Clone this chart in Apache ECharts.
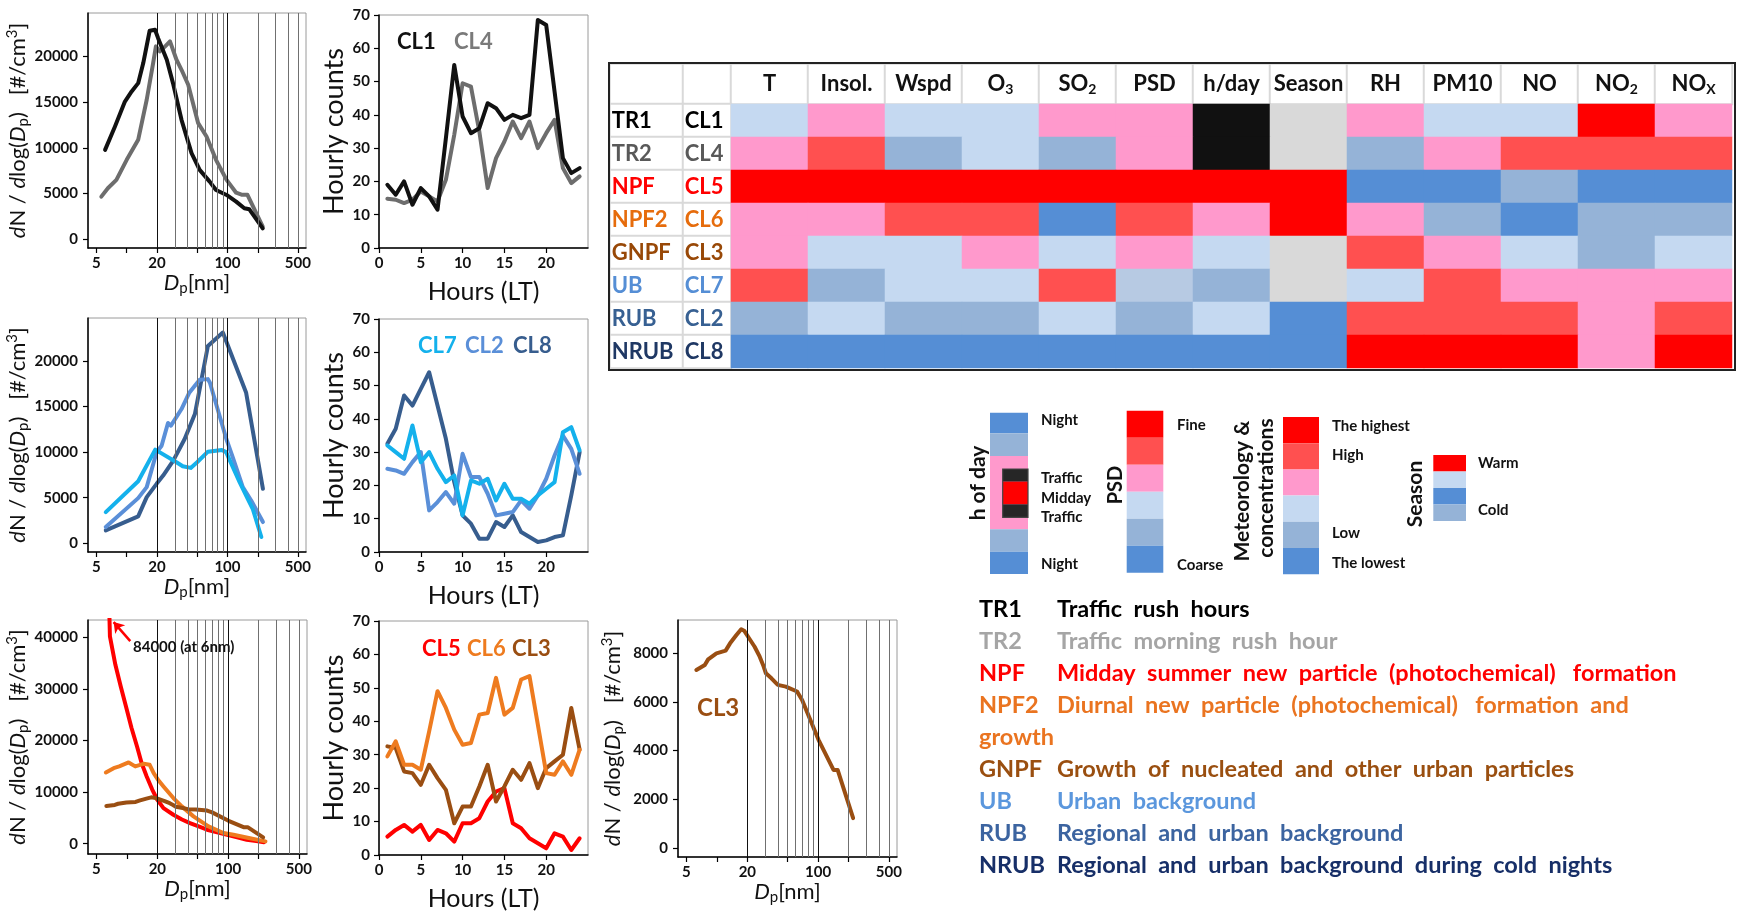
<!DOCTYPE html>
<html>
<head>
<meta charset="utf-8">
<title>PSD clusters</title>
<script src="https://cdn.jsdelivr.net/npm/echarts@6.0.0/dist/echarts.min.js"></script>
<style>
html,body{margin:0;padding:0;background:#ffffff;}
#chart{width:1742px;height:916px;}
</style>
</head>
<body>
<div id="chart"></div>
<script>
const FONT = 'Lato, "Open Sans", "DejaVu Sans", sans-serif';

// ---------- size distributions: [Dp (nm), dN/dlogDp (#/cm3)] ----------
const psdCL1 = [[6.1,9780],[7.65,12340],[9.6,15070],[11.2,16170],[13,17080],[14.6,19270],[16.9,22810],[19.1,22920],[20.5,22000],[25,19640],[28.8,17080],[35,13070],[44,9420],[53,7590],[66.6,6310],[77,5400],[98,4850],[122,4120],[147,3390],[165,3280],[224,1200]];
const psdCL4 = [[5.6,4670],[6.5,5580],[7.9,6500],[10,8690],[13,10880],[15.8,15260],[18.3,19270],[19.5,21100],[21.3,20550],[24.1,21100],[26.9,21640],[31.2,19640],[35,18540],[40.8,16900],[51.2,12700],[62,11240],[77,8690],[98,6500],[122,5100],[140,4860],[158,4860],[224,1390]];
const psdCL7 = [[6.2,3420],[13,6810],[19.2,10270],[31.2,8890],[36,8450],[43.2,8270],[50,8890],[64,10050],[88,10240],[97,10000],[132,6700],[159,4880],[178,3790],[217,690]];
const psdCL2 = [[6.2,1785],[13,4955],[15.8,6160],[19.8,9980],[22.2,10700],[25.7,13190],[27.5,12900],[35,14720],[41.6,16470],[53,17920],[64,18000],[67,17600],[97.5,11440],[113,9430],[142,6160],[172,4700],[225,2330]];
const psdCL8 = [[6.2,1420],[13,2950],[15.8,5060],[19.8,6520],[23,7430],[29,9070],[37.6,11440],[47.5,14170],[64,21640],[90,23100],[153,16540],[225,5975]];
const psdCL5 = [[6.0,84000],[6.8,40200],[7.7,34700],[8.7,30500],[9.8,26600],[11.1,22500],[12.6,18860],[14,15600],[15.7,13050],[17.8,10500],[20,8530],[23,6910],[28.8,5620],[35,4700],[42,4000],[52,3300],[62,2710],[78,2200],[98,1740],[123,1250],[153,775],[190,500],[226,300]];
const psdCL6 = [[6.2,13820],[7.4,14660],[8.4,15000],[10.4,15760],[12.1,15000],[14.6,15500],[16.8,15300],[18.4,13700],[20.5,12300],[23,11100],[28.8,8850],[34.9,7240],[45.5,5300],[64,3360],[90,2070],[113,1740],[160,1100],[234,450]];
const psdCL3 = [[6.27,7316],[7.6,7520],[8.2,7750],[9.9,8000],[12.2,8110],[13.5,8410],[15.6,8750],[17.4,8990],[18.6,8930],[20.8,8620],[23.6,8270],[26.5,7860],[28.6,7520],[30.5,7180],[34.6,6970],[40,6700],[48,6630],[62,6430],[69.5,6080],[101,4440],[142,3200],[156,3200],[222,1220]];

// Dp grid lines and tick labels
const dpGridLines = [20,30,40,50,60,70,80,90,100,200,300,400,500];
const dpTicks = [5,10,20,50,100,200,500];
const dpLabels = [5,20,100,500];

// ---------- hourly counts ----------
const hours = [1,2,3,4,5,6,7,8,9,10,11,12,13,14,15,16,17,18,19,20,21,22,23,24];
const hrCL1 = [19,16,20,13,18,15.5,11.5,33,55,39.5,34.5,36,43.5,42,38.5,40,39,40,68.5,67,47,27,22.5,24];
const hrCL4 = [14.8,14.5,13.5,14.5,17,15.5,14,20.5,34,49.5,48.5,35,18,27,32,38,33,38,30,34.5,38.5,24,19.5,21.5];
const hrCL7 = [32,30,28,38,27,30,25,21,23,11,21.5,20.5,22,15.5,20.5,16,16,14.5,17,19,21,36,37.5,30.5];
const hrCL2 = [25,24.5,23.5,27,30,12.5,15,18,14.5,29.5,22.5,22.5,17.5,11,11.5,12,15.5,13,17,22,29,35,31,23.5];
const hrCL8 = [32.5,37,47,44,49,54,44,34,21,11,8.5,4,4,9,7.5,11,6,4.5,3,3.5,4.5,5,17,30];
const hrCL5 = [5.5,7.5,9,7,9,4.5,7.5,6.5,4,9.5,9.5,11,16,19,20,9.5,8,5,3.5,2,6.5,5.5,1.5,5];
const hrCL6 = [29.5,34,27,27,25.5,37,49,44,37.5,33,33.5,42,42.5,53,42,44,52.5,53.5,39,24.5,24,28,24,31.5];
const hrCL3 = [32.5,32,25,24.5,21,27,23,19.5,9.5,14.5,14.5,20.5,27,16,20.5,25.5,22.5,27.5,20,26,28,30,44,31.5];
const hourTicks = [0,5,10,15,20];

// ---------- table (level codes: 0 lowest .. 5 highest, 1.5 intermediate, 6 n/a, 7 traffic) ----------
const tableCols = ['T','Insol.','Wspd','O_3','SO_2','PSD','h/day','Season','RH','PM10','NO','NO_2','NO_X'];
const typeNames = ['TR1','TR2','NPF','NPF2','GNPF','UB','RUB','NRUB'];
const clusterNames = ['CL1','CL4','CL5','CL6','CL3','CL7','CL2','CL8'];
const rowTR1  = [2,3,2,2,3,3,7,6,3,2,2,5,3];
const rowTR2  = [3,4,1,2,1,3,7,6,1,3,4,4,4];
const rowNPF  = [5,5,5,5,5,5,5,5,0,0,1,0,0];
const rowNPF2 = [3,3,4,4,0,4,3,5,3,1,0,1,1];
const rowGNPF = [3,2,2,3,2,3,2,6,4,3,2,1,2];
const rowUB   = [4,1,2,2,4,1.5,1,6,2,4,3,3,3];
const rowRUB  = [1,2,1,1,2,1,2,0,4,4,4,3,4];
const rowNRUB = [0,0,0,0,0,0,0,0,5,5,5,3,5];
const tableRows = [rowTR1,rowTR2,rowNPF,rowNPF2,rowGNPF,rowUB,rowRUB,rowNRUB];

// ---------- text legend ----------
const groupDescs = ['Traffic  rush  hours','Traffic  morning  rush  hour','Midday  summer  new  particle  (photochemical)   formation','Diurnal  new  particle  (photochemical)   formation  and','Growth  of  nucleated  and  other  urban  particles','Urban  background','Regional  and  urban  background','Regional  and  urban  background  during  cold  nights'];

// ---------- styling ----------
const C = {CL1:'#111111', CL4:'#6d6d6d', CL7:'#14b1ec', CL2:'#5a8fd8', CL8:'#375d8e', CL5:'#ff0000', CL6:'#ee7b1f', CL3:'#9a4e12'};
const rowColors = ['#000000','#595959','#ff0000','#e66c0c','#984807','#558ed5','#376092','#1f3864'];
const descColors = ['#000000','#a5a5a5','#ff0000','#ea7420','#9a4f10','#5b97dd','#3c64a0','#172f68'];
const levelColors = [[0,'#558ed5'],[1,'#95b3d7'],[1.5,'#b7cae3'],[2,'#c5d9f1'],[3,'#ff99cc'],[4,'#ff5050'],[5,'#ff0000'],[6,'#d9d9d9'],[7,'#111111']];

const plotGrids = [
  {left:88, top:13, width:218, height:235},
  {left:379, top:15, width:209, height:233},
  {left:88, top:318, width:218, height:234},
  {left:379, top:319, width:209, height:233},
  {left:88, top:620, width:219, height:234},
  {left:379, top:621, width:209, height:234},
  {left:678, top:620, width:219, height:237}
];
const tableGrids = [
  {left:610, top:64, width:73, height:40},   // 7 HL1
  {left:683, top:64, width:48, height:40},   // 8 HL2
  {left:731, top:64, width:1001, height:40}, // 9 header
  {left:610, top:104, width:73, height:264}, // 10 RL1
  {left:683, top:104, width:48, height:264}, // 11 RL2
  {left:731, top:104, width:1001, height:264} // 12 data
];

const richName = {
  i:{fontFamily:FONT, fontSize:22, fontStyle:'italic', color:'#111'},
  n:{fontFamily:FONT, fontSize:22, color:'#111'},
  sb:{fontFamily:FONT, fontSize:15, color:'#111', padding:[11,0,0,0]},
  sp:{fontFamily:FONT, fontSize:15, color:'#111', padding:[0,0,11,0]}
};
const tickLabel = {fontFamily:FONT, fontWeight:'bold', fontSize:15, color:'#111'};
const axLine = {show:true, onZero:false, lineStyle:{color:'#000', width:1.5}};

function sizeX(gi){
  return {type:'log', gridIndex:gi, logBase:10, min:4.13, max:602,
    axisLine:axLine,
    axisTick:{show:true, customValues:dpTicks, length:5, lineStyle:{color:'#000', width:1.2}},
    axisLabel:Object.assign({customValues:dpLabels, margin:8, formatter:v=>String(v)}, tickLabel),
    splitLine:{show:false}, minorTick:{show:false},
    name:'{i|D}{sb|p}{n|[nm]}', nameLocation:'middle', nameGap:18,
    nameTextStyle:{rich:richName}};
}
function sizeY(gi, min, max, ticks){
  return {type:'value', gridIndex:gi, min, max,
    axisLine:axLine,
    axisTick:{show:true, customValues:ticks, length:5, lineStyle:{color:'#000', width:1.2}},
    axisLabel:Object.assign({customValues:ticks, margin:10, formatter:v=>String(v)}, tickLabel),
    splitLine:{show:false},
    name:'{i|d}{n|N / }{i|d}{n|log(}{i|D}{sb|p}{n|)   [#/cm}{sp|3}{n|]}', nameLocation:'middle', nameGap:52,
    nameTextStyle:{rich:richName}};
}
function hourX(gi){
  return {type:'value', gridIndex:gi, min:0, max:25, interval:5,
    axisLine:axLine,
    axisTick:{show:true, customValues:hourTicks, length:5, lineStyle:{color:'#000', width:1.2}},
    axisLabel:Object.assign({customValues:hourTicks, margin:8}, tickLabel),
    splitLine:{show:false},
    name:'Hours (LT)', nameLocation:'middle', nameGap:31,
    nameTextStyle:{fontFamily:FONT, fontSize:25, color:'#111'}};
}
function hourY(gi){
  return {type:'value', gridIndex:gi, min:0, max:70, interval:10,
    axisLine:axLine,
    axisTick:{show:true, length:5, lineStyle:{color:'#000', width:1.2}},
    axisLabel:Object.assign({margin:9}, tickLabel),
    splitLine:{show:false},
    name:'Hourly counts', nameLocation:'middle', nameGap:31,
    nameTextStyle:{fontFamily:FONT, fontSize:27, color:'#111'}};
}
function catAxis(gi, data, inverse){
  return {type:'category', gridIndex:gi, data, inverse:!!inverse, show:false};
}
function lineS(gi, data, color){
  return {type:'line', xAxisIndex:gi, yAxisIndex:gi, data, symbol:'none', showSymbol:false,
    lineStyle:{color, width:4, join:'round', cap:'round'}, itemStyle:{color}, z:3, clip:true,
    silent:true, emphasis:{disabled:true}};
}
function hourS(gi, vals, color){ return lineS(gi, hours.map((h,i)=>[h, vals[i]]), color); }
function gridLineS(gi){
  return {type:'line', xAxisIndex:gi, yAxisIndex:gi, data:[], z:1, silent:true,
    markLine:{silent:true, symbol:['none','none'], animation:false, label:{show:false},
      emphasis:{disabled:true},
      data:dpGridLines.map(v=>({xAxis:v, lineStyle:{color:(v===20||v===100)?'#111':'#707070', width:1, type:'solid'}}))}};
}
function toRich(s){
  const p = s.split('_');
  return p.length>1 ? '{h|'+p[0]+'}{s|'+p[1]+'}' : '{h|'+s+'}';
}
const cellStyle = {color:'#ffffff', borderColor:'#d9d9d9', borderWidth:2};
const boldLabel = {fontFamily:FONT, fontWeight:'bold', fontSize:22};

const series = [];
// P1
series.push(gridLineS(0), lineS(0, psdCL4, C.CL4), lineS(0, psdCL1, C.CL1));
// P2
series.push(hourS(1, hrCL4, C.CL4), hourS(1, hrCL1, C.CL1));
// P3
series.push(gridLineS(2), lineS(2, psdCL8, C.CL8), lineS(2, psdCL2, C.CL2), lineS(2, psdCL7, C.CL7));
// P4
series.push(hourS(3, hrCL8, C.CL8), hourS(3, hrCL2, C.CL2), hourS(3, hrCL7, C.CL7));
// P5
const arrowS = {type:'line', xAxisIndex:4, yAxisIndex:4, data:[], z:4, silent:true,
  markLine:{silent:true, symbol:['none','arrow'], symbolSize:10, animation:false, label:{show:false}, emphasis:{disabled:true},
    lineStyle:{color:'#ff0000', width:2.5, type:'solid'},
    data:[[{coord:[10.8,39300]},{coord:[7.4,43000]}]]}};
series.push(gridLineS(4), lineS(4, psdCL5, C.CL5), lineS(4, psdCL6, C.CL6), lineS(4, psdCL3, C.CL3), arrowS);
// P6
series.push(hourS(5, hrCL5, C.CL5), hourS(5, hrCL3, C.CL3), hourS(5, hrCL6, C.CL6));
// P7
series.push(gridLineS(6), lineS(6, psdCL3, C.CL3));

// table
const blankCell = (gi)=>({type:'heatmap', xAxisIndex:gi, yAxisIndex:gi, data:[[0,0,0]], itemStyle:cellStyle, label:{show:false}, silent:true, emphasis:{disabled:true}});
series.push(blankCell(7), blankCell(8));
series.push({type:'heatmap', xAxisIndex:9, yAxisIndex:9, silent:true, emphasis:{disabled:true},
  data:tableCols.map((c,i)=>({value:[i,0,0], name:c})), itemStyle:cellStyle,
  label:{show:true, formatter:p=>toRich(p.name),
    rich:{h:Object.assign({color:'#111'}, boldLabel), s:{fontFamily:FONT, fontWeight:'bold', fontSize:14, color:'#111', padding:[10,0,0,0]}}}});
series.push({type:'heatmap', xAxisIndex:10, yAxisIndex:10, silent:true, emphasis:{disabled:true},
  data:typeNames.map((n,i)=>({value:[0,i,0], name:n, label:{color:rowColors[i]}})), itemStyle:cellStyle,
  label:Object.assign({show:true, position:'insideLeft', distance:3, formatter:p=>p.name}, boldLabel)});
series.push({type:'heatmap', xAxisIndex:11, yAxisIndex:11, silent:true, emphasis:{disabled:true},
  data:clusterNames.map((n,i)=>({value:[0,i,0], name:n, label:{color:rowColors[i]}})), itemStyle:cellStyle,
  label:Object.assign({show:true, position:'insideLeft', distance:3, formatter:p=>p.name}, boldLabel)});
const cells = [];
tableRows.forEach((row, r)=>row.forEach((v, c)=>cells.push([c, r, v])));
const dataSeriesIdx = series.length;
series.push({type:'heatmap', xAxisIndex:12, yAxisIndex:12, data:cells, silent:true, emphasis:{disabled:true},
  itemStyle:{borderWidth:0}, label:{show:false}});

// ---------- graphics ----------
function txt(x, y, text, o){
  o = o || {};
  return {type:'text', x, y, rotation:o.rot||0, silent:true, z:10,
    style:{text, fill:o.color||'#111', font:(o.weight||'bold')+' '+(o.size||15)+'px '+FONT,
      align:o.align||'left', verticalAlign:'middle'}};
}
function rect(x, y, w, h, fill, stroke){
  return {type:'rect', silent:true, z:5, shape:{x, y, width:w, height:h},
    style:{fill:fill||'none', stroke:stroke||null, lineWidth:stroke?1.2:0}};
}
const G = [];
// in-plot labels
G.push(txt(397,42,'CL1',{size:22,color:C.CL1}), txt(454,42,'CL4',{size:22,color:'#7a7a7a'}));
G.push(txt(418,346,'CL7',{size:22,color:C.CL7}), txt(465,346,'CL2',{size:22,color:C.CL2}), txt(513,346,'CL8',{size:22,color:C.CL8}));
G.push(txt(422,649,'CL5',{size:22,color:C.CL5}), txt(467,649,'CL6',{size:22,color:C.CL6}), txt(512,649,'CL3',{size:22,color:C.CL3}));
G.push(txt(697,708,'CL3',{size:24,color:C.CL3}));
G.push(txt(133,647,'84000 (at 6nm)',{size:15,color:'#111'}));
// table outer frame
G.push(rect(609,63,1126,307,'none','#222'));
G[G.length-1].style.lineWidth = 2;
// colour keys
const scale6 = ['#ff0000','#ff5050','#ff99cc','#c5d9f1','#95b3d7','#558ed5'];
// h of day
G.push(rect(990,412.7,38,20.6,'#558ed5'), rect(990,433.3,38,22.7,'#95b3d7'), rect(990,456,38,73.3,'#ff99cc'),
       rect(990,529.3,38,22.4,'#95b3d7'), rect(990,551.7,38,22.3,'#558ed5'),
       rect(1002.7,469,25.3,12.7,'#262626'), rect(1002.7,481.7,25.3,22.6,'#ff0000'), rect(1002.7,504.3,25.3,13,'#262626'),
       rect(1002.7,469,25.3,48.3,'none','#444'));
G.push(txt(1041,420,'Night'), txt(1041,478,'Traffic'), txt(1041,498,'Midday'), txt(1041,517,'Traffic'), txt(1041,564,'Night'));
G.push(txt(978,483,'h of day',{size:21,rot:Math.PI/2,align:'center'}));
// PSD
scale6.forEach((c,i)=>G.push(rect(1126.7,410.7+i*27,36.6,27,c)));
G.push(txt(1116,485,'PSD',{size:20,rot:Math.PI/2,align:'center'}), txt(1177,425,'Fine'), txt(1177,565,'Coarse'));
// meteorology
scale6.forEach((c,i)=>G.push(rect(1283,417+i*26.2,36,26.2,c)));
G.push(txt(1242,491,'Meteorology &',{size:21,rot:Math.PI/2,align:'center'}), txt(1266,488,'concentrations',{size:21,rot:Math.PI/2,align:'center'}));
G.push(txt(1332,426,'The highest'), txt(1332,455,'High'), txt(1332,533,'Low'), txt(1332,563,'The lowest'));
// season
['#ff0000','#c5d9f1','#558ed5','#95b3d7'].forEach((c,i)=>G.push(rect(1433.3,455+i*16.5,32.7,16.5,c)));
G.push(txt(1415,494,'Season',{size:21,rot:Math.PI/2,align:'center'}), txt(1478,463,'Warm'), txt(1478,510,'Cold'));
// text legend
const legendY = [609,641,673,705,769,801,833,865];
typeNames.forEach((n,i)=>{
  G.push(txt(979, legendY[i], n, {size:23.5, color:descColors[i]}));
  G.push(txt(1057, legendY[i], groupDescs[i], {size:23.5, color:descColors[i]}));
});
G.push(txt(979, 737, 'growth', {size:23.5, color:descColors[3]}));

const option = {
  animation:false,
  backgroundColor:'#ffffff',
  textStyle:{fontFamily:FONT},
  grid:[].concat(plotGrids.map(g=>Object.assign({show:true, borderColor:'#9a9a9a', borderWidth:1, backgroundColor:'transparent', containLabel:false}, g)),
                 tableGrids.map(g=>Object.assign({show:false, containLabel:false}, g))),
  xAxis:[sizeX(0), hourX(1), sizeX(2), hourX(3), sizeX(4), hourX(5), sizeX(6),
         catAxis(7,['a']), catAxis(8,['a']), catAxis(9,tableCols), catAxis(10,['a']), catAxis(11,['a']), catAxis(12,tableCols)],
  yAxis:[sizeY(0,-950,24750,[0,5000,10000,15000,20000]), hourY(1),
         sizeY(2,-950,24700,[0,5000,10000,15000,20000]), hourY(3),
         sizeY(4,-2000,43400,[0,10000,20000,30000,40000]), hourY(5),
         sizeY(6,-380,9370,[0,2000,4000,6000,8000]),
         catAxis(7,['h']), catAxis(8,['h']), catAxis(9,['h']), catAxis(10,typeNames,true), catAxis(11,typeNames,true), catAxis(12,typeNames,true)],
  visualMap:{type:'piecewise', show:false, seriesIndex:dataSeriesIdx, dimension:2,
    pieces:levelColors.map(([v,c])=>({value:v, color:c}))},
  series,
  graphic:{elements:G}
};
const chart = echarts.init(document.getElementById('chart'), null, {renderer:'canvas', width:1742, height:916});
chart.setOption(option);
</script>
</body>
</html>
